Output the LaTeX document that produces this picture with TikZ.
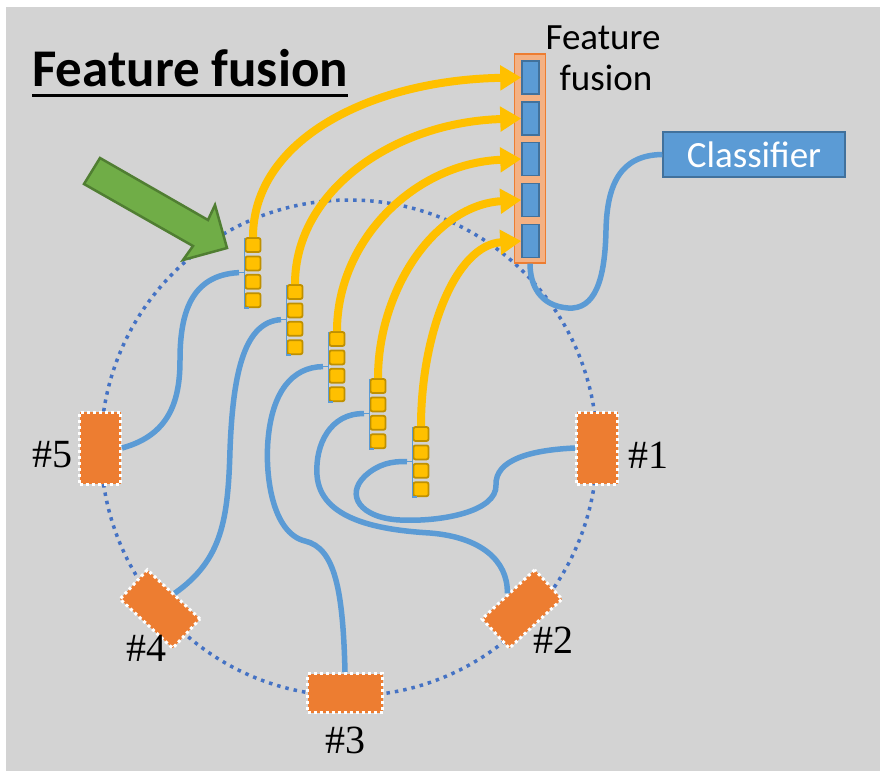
\documentclass[tikz,border=0pt]{standalone}
\usepackage{fontspec}
\setmainfont{Carlito}
\newfontfamily\numfont{Liberation Serif}
\usetikzlibrary{arrows.meta,positioning}
\definecolor{bggray}{HTML}{D3D3D3}
\definecolor{cableblue}{HTML}{5B9BD5}
\definecolor{darkblue}{HTML}{41719C}
\definecolor{ringblue}{HTML}{4472C4}
\definecolor{featyellow}{HTML}{FFC000}
\definecolor{featdark}{HTML}{BF9000}
\definecolor{sensororange}{HTML}{ED7D31}
\definecolor{fusedfill}{HTML}{F4B183}
\definecolor{arrowgreen}{HTML}{70AD47}
\definecolor{arrowdark}{HTML}{507E32}

\begin{document}
\begin{tikzpicture}[x=1pt,y=-1pt,
  cable/.style={line width=5.5pt,draw=cableblue},
  bracket/.style={line width=1.3pt,draw=cableblue},
  feat/.style={line width=8pt,draw=featyellow,-{Triangle[width=24pt,length=21pt]}},
  cell/.style={draw=featdark,fill=featyellow,line width=1.8pt,rounded corners=2pt,
    minimum width=15pt,minimum height=14pt,inner sep=0pt},
  fused/.style={draw=darkblue,fill=cableblue,line width=1.5pt,
    minimum width=17pt,minimum height=33pt,inner sep=0pt},
  sensor/.style={fill=sensororange,draw=white,line width=3pt,dash pattern=on 3pt off 3pt,
    minimum width=72pt,minimum height=40pt,inner sep=0pt},
  tag/.style={font=\numfont\fontsize{40}{44}\selectfont,inner sep=0pt}]
\useasboundingbox (0,0) rectangle (880,771);
\fill[bggray] (6,7) rectangle (880,771);

% title
\node[anchor=base west,inner sep=0pt,font=\fontsize{53}{62}\selectfont\bfseries] (title) at (32,86) {Feature fusion};
\draw[line width=3pt] ([yshift=-9pt]title.base west) -- ([yshift=-9pt]title.base east);

% sensing ring
\coordinate (O) at (349,448);
\draw[ringblue,line width=3.5pt,dash pattern=on 3.5pt off 5pt] (O) circle (248);
\node[sensor,minimum width=41pt,minimum height=72pt] (s5) at (100,448) {};
\node[sensor,minimum width=41pt,minimum height=72pt] (s1) at (597,448) {};
\node[sensor,minimum width=75pt,minimum height=39pt] (s3) at (345,693) {};
\node[sensor,rotate=-43] (s4) at (160,609) {};
\node[sensor,rotate=43] (s2) at (522,609) {};
\node[tag] at (52,455) {\#5};
\node[tag] at (648,455) {\#1};
\node[tag] at (146,648) {\#4};
\node[tag] at (553,640) {\#2};
\node[tag] at (345,740) {\#3};

% feature stacks
\foreach \i/\x/\y in {1/253/245,2/295/292,3/337/339,4/378/386,5/421/434}{
  \foreach \j in {0,...,3}
    \node[cell] (f\i\j) at (\x,\y+18.4*\j) {};
  \draw[bracket] (\x-8.5,\y-7) -- (\x-8.5,\y+63) -- (\x-4,\y+63);
  \coordinate (a\i) at (\x-14,\y+27.6);
  \draw[bracket] (a\i) -- ++(6,0);
}

% fusion column
\node[draw=sensororange,fill=fusedfill,line width=1.2pt,minimum width=31pt,minimum height=209pt,inner sep=0pt] (col) at (530,158.5) {};
\foreach \k/\y in {1/77.5,2/118.5,3/159,4/200,5/241}
  \node[fused] (c\k) at (530.5,\y) {};
\node[align=center,font=\fontsize{37}{41}\selectfont,inner sep=0pt] (fuselabel) at (603,58) {Feature\\ \hspace*{6pt}fusion};

\node[draw=darkblue,fill=cableblue,line width=1.5pt,minimum width=182pt,minimum height=45pt,
  inner sep=0pt,text=white,font=\fontsize{37}{40}\selectfont] (cls) at (754,154.5) {Classifier};

% stacks to fusion
\draw[feat] (f10.north) .. controls (253,140) and (370,80) .. (c1.west);
\draw[feat] (f20.north) .. controls (295,190) and (395,122) .. (c2.west);
\draw[feat] (f30.north) .. controls (337,240) and (415,163) .. (c3.west);
\draw[feat] (f40.north) .. controls (378,290) and (435,205) .. (c4.west);
\draw[feat] (f50.north) .. controls (421,335) and (455,245) .. (c5.west);

% sensors to stacks
\draw[cable] (s5.east) .. controls (170,435) and (180,400) .. (180,360)
  .. controls (180,315) and (190,275) .. (a1);
\draw[cable] (s4.north) .. controls (222,560) and (228,520) .. (230,450)
  .. controls (233,370) and (245,322) .. (a2);
\draw[cable] (s3.north) .. controls (343,590) and (335,548) .. (305,541)
  .. controls (272,533) and (265,475) .. (268,440)
  .. controls (272,392) and (292,367) .. (a3);
\draw[cable] (s2.north) .. controls (508,560) and (480,537) .. (430,533)
  .. controls (380,530) and (320,520) .. (317,475)
  .. controls (315,445) and (330,413) .. (a4);
\draw[cable] (s1.west) .. controls (530,450) and (495,460) .. (496,485)
  .. controls (497,512) and (440,522) .. (400,520)
  .. controls (360,518) and (345,495) .. (365,476)
  .. controls (378,464) and (392,461) .. (a5);
\draw[cable] (cls.west) .. controls (620,155) and (607,185) .. (606,230)
  .. controls (605,280) and (595,310) .. (568,308)
  .. controls (540,306) and (530,285) .. (col.south);

% pointer
\filldraw[fill=arrowgreen,draw=arrowdark,line width=2.5pt,line join=miter]
  (100,158) -- (208,220) -- (215,205) -- (227,248) -- (183,260) -- (193,246) -- (84,184) -- cycle;
\end{tikzpicture}
\end{document}
